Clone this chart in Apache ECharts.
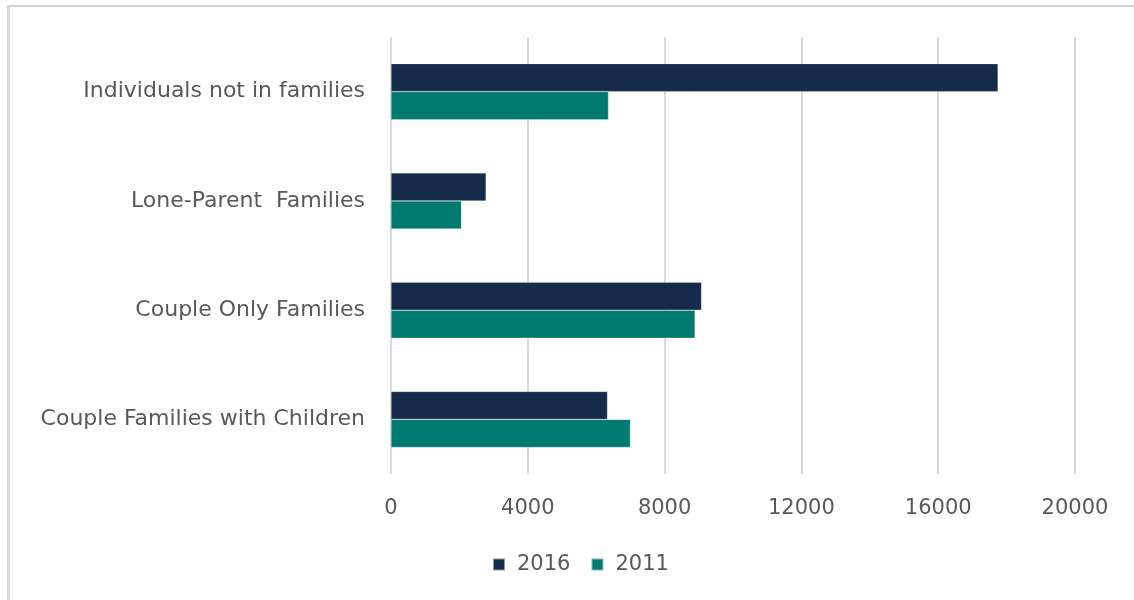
<!DOCTYPE html>
<html>
<head>
<meta charset="utf-8">
<script src="https://cdn.jsdelivr.net/npm/echarts@6/dist/echarts.min.js"></script>
<style>
html,body{margin:0;padding:0;background:#fff;}
#chart{width:1134px;height:600px;}
</style>
</head>
<body>
<div id="chart"></div>
<script>
const categories = ['Couple Families with Children', 'Couple Only Families', 'Lone-Parent  Families', 'Individuals not in families'];
const values2016 = [6330, 9080, 2780, 17750];
const values2011 = [7000, 8890, 2060, 6360];
const xTicks = [0, 4000, 8000, 12000, 16000, 20000];

const chart = echarts.init(document.getElementById('chart'));
const FONT = '"DejaVu Sans", sans-serif';
chart.setOption({
  animation: false,
  backgroundColor: '#ffffff',
  graphic: [
    { type: 'line', shape: { x1: 7, y1: 6, x2: 1134, y2: 6 }, style: { stroke: '#bfbfbf', lineWidth: 1.5 } },
    { type: 'line', shape: { x1: 8.5, y1: 6, x2: 8.5, y2: 600 }, style: { stroke: '#d9d9d9', lineWidth: 3 } }
  ],
  grid: { left: 391, right: 59, top: 37, bottom: 126, containLabel: false },
  legend: {
    data: ['2016', '2011'],
    top: 549,
    left: 487,
    itemWidth: 12,
    itemHeight: 12,
    itemGap: 20,
    icon: 'rect',
    textStyle: { color: '#595959', fontSize: 21, fontFamily: FONT, padding: [0, 0, 0, 7] }
  },
  xAxis: {
    type: 'value',
    min: xTicks[0],
    max: xTicks[xTicks.length - 1],
    interval: 4000,
    axisLine: { show: false },
    axisTick: { show: false },
    splitLine: { show: true, lineStyle: { color: '#d9d9d9', width: 2 } },
    axisLabel: { color: '#595959', fontSize: 21, fontFamily: FONT, margin: 24, formatter: v => String(v) }
  },
  yAxis: {
    type: 'category',
    data: categories,
    axisLine: { show: false },
    axisTick: { show: false },
    axisLabel: { color: '#595959', fontSize: 22, fontFamily: FONT, margin: 26 }
  },
  series: [
    {
      name: '2016', type: 'bar', data: values2016, barWidth: 28, barGap: '0%',
      itemStyle: { color: '#162a4a', borderColor: 'rgba(255,255,255,0.5)', borderWidth: 0.5 }
    },
    {
      name: '2011', type: 'bar', data: values2011, barWidth: 28, barGap: '0%',
      itemStyle: { color: '#007a6e', borderColor: 'rgba(255,255,255,0.5)', borderWidth: 0.5 }
    }
  ]
});
</script>
</body>
</html>
